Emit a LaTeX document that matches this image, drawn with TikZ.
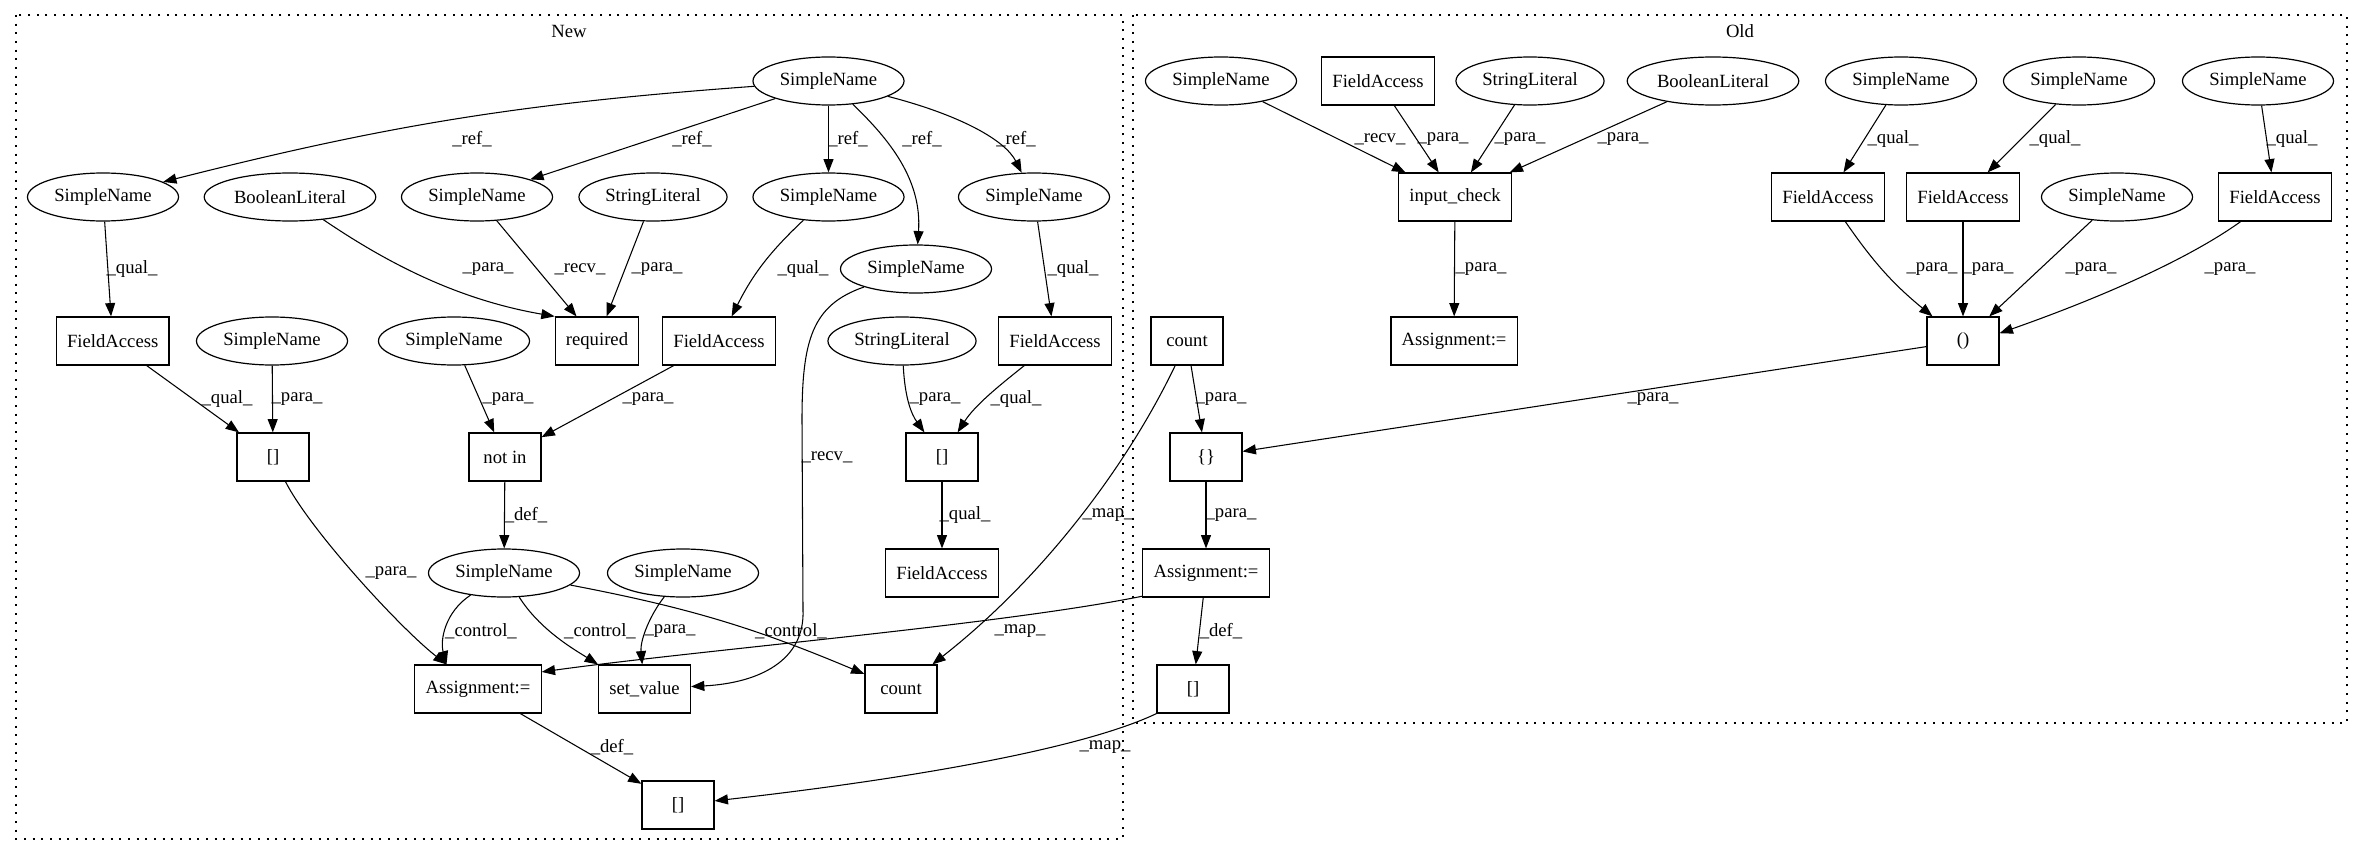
\documentclass[tikz,border=0pt]{standalone}
\usepackage{fontspec}
\setmainfont{Liberation Serif}
\usetikzlibrary{arrows.meta,shapes.geometric}

\begin{document}
\begin{tikzpicture}[
  x=0.75pt, y=-0.75pt,
  every node/.style={font=\fontsize{14pt}{16pt}\selectfont},
  ell/.style={ellipse, draw, line width=0.9pt, inner xsep=3.5pt, inner ysep=2pt, minimum height=36pt},
  box/.style={rectangle, draw, line width=0.9pt, inner xsep=8pt, minimum width=54pt, minimum height=36pt},
  arrow/.style={-{Triangle[length=10pt,width=7.5pt]}, line width=0.8pt},
  lbl/.style={inner sep=0pt},
  cluster/.style={line width=0.9pt, dash pattern=on 1.5pt off 5pt}
]
\useasboundingbox (0,0) rectangle (2363,856);

% Clusters
\draw[cluster] (16,15) rectangle (1123,839);
\draw[cluster] (1133,15) rectangle (2347,723);
\node (newLbl) at (569,31) {New};
\node (oldLbl) at (1740,31) {Old};

% Nodes (New)
\node[ell] (nRoot) at (828.5,81) {SimpleName};
\node[ell] (nName1) at (103,197) {SimpleName};
\node[ell] (nBool) at (290,197) {BooleanLiteral};
\node[ell] (nName2) at (477,197) {SimpleName};
\node[ell] (nStr1) at (653,197) {StringLiteral};
\node[ell] (nName3) at (828.5,197) {SimpleName};
\node[ell] (nName4) at (1034,197) {SimpleName};
\node[ell] (nName5) at (916,269) {SimpleName};
\node[box] (nField1) at (112.7,341) {FieldAccess};
\node[ell] (nName6) at (272,341) {SimpleName};
\node[ell] (nName7) at (454,341) {SimpleName};
\node[box] (nReq) at (597,341) {required};
\node[box] (nField2) at (719,341) {FieldAccess};
\node[ell] (nStr2) at (902,341) {StringLiteral};
\node[box] (nField3) at (1055,341) {FieldAccess};
\node[box] (nIdx1) at (273,457) {[]};
\node[box] (nNotIn) at (505,457) {not in};
\node[box] (nIdx2) at (942,457) {[]};
\node[ell] (nName8) at (504,573) {SimpleName};
\node[ell] (nName9) at (683,573) {SimpleName};
\node[box] (nField4) at (942,573) {FieldAccess};
\node[box] (nAssign) at (478,689) {Assignment:=};
\node[box] (nSetVal) at (644.5,689) {set\_value};
\node[box] (nCount) at (901,689) {count};
\node[box] (nIdx3) at (678,805) {[]};

% Nodes (Old)
\node[ell] (oName1) at (1221,81) {SimpleName};
\node[box] (oField1) at (1378,81) {FieldAccess};
\node[ell] (oStr) at (1530,81) {StringLiteral};
\node[ell] (oBool) at (1713,81) {BooleanLiteral};
\node[ell] (oName2) at (1901,81) {SimpleName};
\node[ell] (oName3) at (2079,81) {SimpleName};
\node[ell] (oName4) at (2258,81) {SimpleName};
\node[box] (oCheck) at (1455,197) {input\_check};
\node[box] (oField2) at (1828,197) {FieldAccess};
\node[box] (oField3) at (1963,197) {FieldAccess};
\node[ell] (oName5) at (2117,197) {SimpleName};
\node[box] (oField4) at (2275,197) {FieldAccess};
\node[box] (oCount) at (1187,341) {count};
\node[box] (oAssign1) at (1454,341) {Assignment:=};
\node[box] (oParen) at (1963,341) {()};
\node[box] (oBrace) at (1206,457) {\{\}};
\node[box] (oAssign2) at (1206,573) {Assignment:=};
\node[box] (oIdx) at (1193,689) {[]};

% Arrows (New)
\draw[arrow] (nRoot) to[bend right=5] (nName1) node[lbl] at (472,139) {\_ref\_};
\draw[arrow] (nRoot) -- (nName2) node[lbl] at (692,139) {\_ref\_};
\draw[arrow] (nRoot) -- (nName3) node[lbl] at (848,139) {\_ref\_};
\draw[arrow] (nRoot) .. controls (890,140) and (922,180) .. (nName5) node[lbl] at (922,139) {\_ref\_};
\draw[arrow] (nRoot) .. controls (960,115) and (1005,140) .. (nName4) node[lbl] at (1016,139) {\_ref\_};
\draw[arrow] (nName1) -- (nField1) node[lbl] at (132,269) {\_qual\_};
\draw[arrow] (nBool) .. controls (390,265) and (460,300) .. (nReq.north west) node[lbl] at (488,269) {\_para\_};
\draw[arrow] (nName2) -- (nReq) node[lbl] at (580,269) {\_recv\_};
\draw[arrow] (nStr1) -- (nReq) node[lbl] at (657,269) {\_para\_};
\draw[arrow] (nName3) to[bend right=10] (nField2) node[lbl] at (803,269) {\_qual\_};
\draw[arrow] (nName4) -- (nField3) node[lbl] at (1073,269) {\_qual\_};
\draw[arrow] (nName5) .. controls (812,305) and (802,340) .. (802,420) -- (803,610) .. controls (805,660) and (760,683) .. (nSetVal) node[lbl] at (827,457) {\_recv\_};
\draw[arrow] (nField1) -- (nIdx1) node[lbl] at (227,399) {\_qual\_};
\draw[arrow] (nName6) -- (nIdx1) node[lbl] at (297,399) {\_para\_};
\draw[arrow] (nName7) -- (nNotIn) node[lbl] at (508,399) {\_para\_};
\draw[arrow] (nField2) -- (nNotIn) node[lbl] at (648,399) {\_para\_};
\draw[arrow] (nStr2) .. controls (905,400) and (912,415) .. (nIdx2) node[lbl] at (935,399) {\_para\_};
\draw[arrow] (nField3) .. controls (1000,385) and (975,405) .. (nIdx2) node[lbl] at (1016,399) {\_qual\_};
\draw[arrow] (nIdx1) .. controls (310,530) and (400,628) .. (nAssign) node[lbl] at (391,573) {\_para\_};
\draw[arrow] (nNotIn) -- (nName8) node[lbl] at (526,515) {\_def\_};
\draw[arrow] (nIdx2) -- (nField4) node[lbl] at (965,515) {\_qual\_};
\draw[arrow] (nName8) .. controls (445,612) and (440,640) .. (nAssign.142) node[lbl] at (481,631) {\_control\_};
\draw[arrow] (nName8) .. controls (540,630) and (575,650) .. (nSetVal.north west) node[lbl] at (600,631) {\_control\_};
\draw[arrow] (nName9) .. controls (650,615) and (640,640) .. (nSetVal) node[lbl] at (670,631) {\_para\_};
\draw[arrow] (nName8) to[bend left=6] (nCount) node[lbl] at (791,631) {\_control\_};
\draw[arrow] (nAssign) -- (nIdx3) node[lbl] at (612,747) {\_def\_};

% Arrows (Old)
\draw[arrow] (oName1) -- (oCheck) node[lbl] at (1380,139) {\_recv\_};
\draw[arrow] (oField1) -- (oCheck) node[lbl] at (1443,139) {\_para\_};
\draw[arrow] (oStr) -- (oCheck) node[lbl] at (1520,139) {\_para\_};
\draw[arrow] (oBool) -- (oCheck) node[lbl] at (1623,139) {\_para\_};
\draw[arrow] (oName2) -- (oField2) node[lbl] at (1893,139) {\_qual\_};
\draw[arrow] (oName3) -- (oField3) node[lbl] at (2055,139) {\_qual\_};
\draw[arrow] (oName4) -- (oField4) node[lbl] at (2292,139) {\_qual\_};
\draw[arrow] (oCheck) -- (oAssign1) node[lbl] at (1481,269) {\_para\_};
\draw[arrow] (oField2) to[bend right=8] (oParen) node[lbl] at (1932,269) {\_para\_};
\draw[arrow] (oField3) -- (oParen) node[lbl] at (1988,269) {\_para\_};
\draw[arrow] (oName5) -- (oParen) node[lbl] at (2091,269) {\_para\_};
\draw[arrow] (oField4) .. controls (2180,265) and (2080,305) .. (oParen.12) node[lbl] at (2230,269) {\_para\_};
\draw[arrow] (oCount) -- (oBrace) node[lbl] at (1221,399) {\_para\_};
\draw[arrow] (oParen) -- (oBrace) node[lbl] at (1653,399) {\_para\_};
\draw[arrow] (oBrace) -- (oAssign2) node[lbl] at (1231,515) {\_para\_};
\draw[arrow] (oAssign2) -- (oIdx) node[lbl] at (1221,631) {\_def\_};

% Arrows (map)
\draw[arrow] (oCount) .. controls (1125,470) and (1040,580) .. (nCount) node[lbl] at (1108,515) {\_map\_};
\draw[arrow] (oAssign2.200) .. controls (1000,625) and (700,650) .. (nAssign.15) node[lbl] at (1020,631) {\_map\_};
\draw[arrow] (oIdx.south west) .. controls (1080,750) and (900,780) .. (nIdx3) node[lbl] at (1105,747) {\_map\_};

\end{tikzpicture}
\end{document}
